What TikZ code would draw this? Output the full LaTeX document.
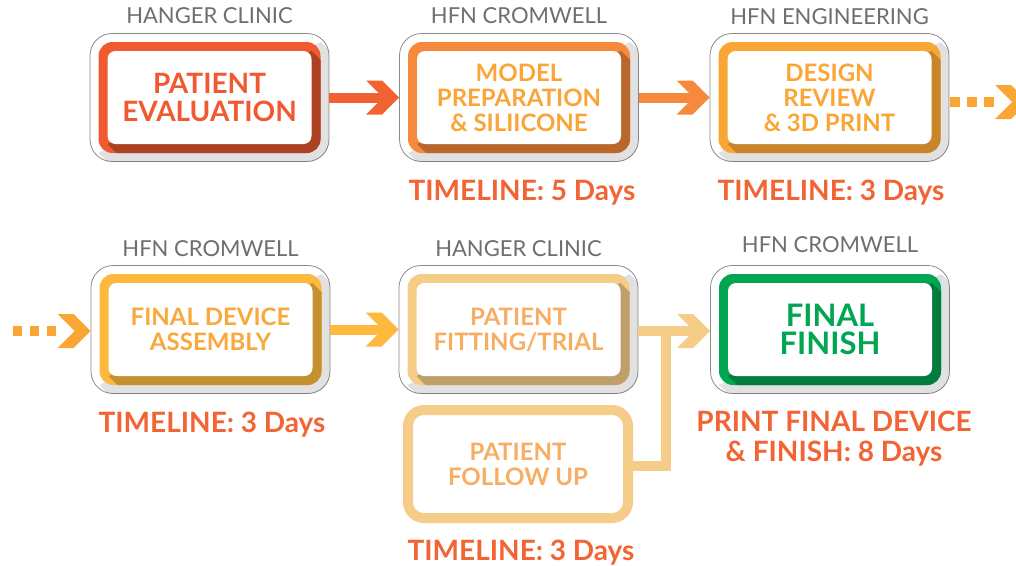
\documentclass[tikz,border=0pt]{standalone}
\usepackage{fontspec}
\setmainfont{Lato}
\usetikzlibrary{calc}
\definecolor{cA}{HTML}{F15A31}
\definecolor{cAr}{HTML}{F26433}
\definecolor{cB}{HTML}{F6893B}
\definecolor{cBt}{HTML}{F9A538}
\definecolor{cC}{HTML}{FAA634}
\definecolor{cD}{HTML}{FDB93D}
\definecolor{cDt}{HTML}{F9A93B}
\definecolor{cE}{HTML}{F5CD88}
\definecolor{cEt}{HTML}{F8AE62}
\definecolor{cG}{HTML}{00A651}
\definecolor{ttl}{HTML}{6D6E71}
\definecolor{obox}{HTML}{8A8A8A}
\tikzset{
  outerbox/.style={draw=obox, line width=0.8pt, fill=white, rounded corners=22pt,
    minimum width=239pt, minimum height=128pt, inner sep=0pt},
  lbl/.style={font=\bfseries\fontsize{24}{25}\selectfont, align=center, inner sep=0pt},
  lblbig/.style={font=\bfseries\fontsize{28}{28.5}\selectfont, align=center, inner sep=0pt},
  lblhuge/.style={font=\bfseries\fontsize{31}{28.5}\selectfont, align=center, inner sep=0pt},
  ttlstyle/.style={font=\fontsize{22}{24}\selectfont, text=ttl, inner sep=0pt},
  tline/.style={font=\bfseries\fontsize{28}{30}\selectfont, text=cAr, align=center,
    inner sep=0pt, anchor=north},
  shaft/.style={line width=10pt},
  dots/.style={line width=10pt, dash pattern=on 10pt off 7pt},
}
\newcommand\chev[2]{\fill[#1] ($(#2)+(-33,-17)$) -- ($(#2)+(-17,-17)$) -- (#2)
  -- ($(#2)+(-17,17)$) -- ($(#2)+(-33,17)$) -- ($(#2)+(-16,0)$) -- cycle;}
% name, position, frame colour, dark colour, text colour, text style, text
\newcommand\stagebox[7]{%
  \node[outerbox] (#1) at (#2) {};
  \begin{scope}
    \clip[rounded corners=22pt] ($(#1)+(-119.5,-64)$) rectangle ($(#1)+(119.5,64)$);
    \fill[black,opacity=0.06] ($(#1)+(111,-55.5)$) -- ($(#1)+(127,-39.5)$)
      -- ($(#1)+(127,71.5)$) -- ($(#1)+(-95,71.5)$) -- ($(#1)+(-111,55.5)$) -- cycle;
    \fill[black,opacity=0.06] ($(#1)+(111,-55.5)$) -- ($(#1)+(119,-47.5)$)
      -- ($(#1)+(119,63.5)$) -- ($(#1)+(-103,63.5)$) -- ($(#1)+(-111,55.5)$) -- cycle;
  \end{scope}
  \fill[#3, rounded corners=14pt] ($(#1)+(-111,-55.5)$) rectangle ($(#1)+(111,55.5)$);
  \begin{scope}
    \clip[rounded corners=14pt] ($(#1)+(-111,-55.5)$) rectangle ($(#1)+(111,55.5)$);
    \fill[#4] ($(#1)+(102,-46.5)$) -- ($(#1)+(132,-16.5)$) -- ($(#1)+(132,76.5)$)
      -- ($(#1)+(-72,76.5)$) -- ($(#1)+(-102,46.5)$) -- cycle;
  \end{scope}
  \fill[white, rounded corners=8pt] ($(#1)+(-102,-46.5)$) rectangle ($(#1)+(102,46.5)$);
  \node[#6, text=#5] (#1t) at (#1) {#7};
}
\begin{document}
\begin{tikzpicture}[x=1pt,y=-1pt]
\useasboundingbox (0,0) rectangle (1016,565);
\clip (0,0) rectangle (1016,565);

% stages
\stagebox{b1}{209.5,97.5}{cA}{cA!72!black}{cA}{lblbig}{PATIENT\\EVALUATION}
\stagebox{b2}{519,97.5}{cB}{cB!75!black}{cBt}{lbl}{MODEL\\PREPARATION\\\& SILIICONE}
\stagebox{b3}{829.5,97.5}{cC}{cC!80!black}{cC}{lbl}{DESIGN\\REVIEW\\\& 3D PRINT}
\stagebox{b4}{210.5,329.5}{cD}{cD!78!black}{cDt}{lbl}{FINAL DEVICE\\ASSEMBLY}
\stagebox{b5}{518.5,329.5}{cE}{cE!78!black}{cEt}{lbl}{PATIENT\\FITTING/TRIAL}
\stagebox{b6}{830,329.5}{cG}{cG!75!black}{cG}{lblhuge}{FINAL\\FINISH}

\node[draw=cE, line width=10pt, rounded corners=16pt, fill=white,
  minimum width=220pt, minimum height=108pt, inner sep=0pt, lbl, text=cEt]
  (fu) at (518,464) {PATIENT\\FOLLOW UP};

% titles
\node[ttlstyle] (t1) at (209.5,16) {HANGER CLINIC};
\node[ttlstyle] (t2) at (519,16) {HFN CROMWELL};
\node[ttlstyle] (t3) at (829.5,17) {HFN ENGINEERING};
\node[ttlstyle] (t4) at (210.5,249) {HFN CROMWELL};
\node[ttlstyle] (t5) at (518.5,249) {HANGER CLINIC};
\node[ttlstyle] (t6) at (830,245) {HFN CROMWELL};

% timelines
\node[tline] (l1) at (522,180) {TIMELINE: 5 Days};
\node[tline] (l2) at (831,180) {TIMELINE: 3 Days};
\node[tline] (l3) at (212,412) {TIMELINE: 3 Days};
\node[tline] (l4) at (521,540) {TIMELINE: 3 Days};
\node[tline] (l5) at (834,411) {PRINT FINAL DEVICE\\\& FINISH: 8 Days};

% connectors
\draw[shaft, cA!88!cB] (b1.east) -- ($(b2.west)+(-15,0)$);
\chev{cA!80!cB}{b2.west}
\draw[shaft, cB] (b2.east) -- ($(b3.west)+(-15,0)$);
\chev{cB}{b3.west}

\coordinate (e1) at (1028,102);
\draw[dots, cC] ($(b3.east)+(1,4.5)$) -- ($(e1)+(-33,0)$);
\chev{cC}{e1}

\coordinate (s2) at (13,331);
\coordinate (h4) at ($(b4.west)+(0,1.5)$);
\draw[dots, cC, dash pattern=on 9pt off 8pt] (s2) -- ($(h4)+(-33,0)$);
\chev{cC}{h4}

\draw[shaft, cD] (b4.east) -- ($(b5.west)+(-15,0)$);
\chev{cD}{b5.west}

\coordinate (h6) at ($(b6.west)+(0,1.5)$);
\coordinate (j) at ($(b5.east)+(28,1.5)$);
\draw[shaft, cE] ($(b5.east)+(0,1.5)$) -- ($(h6)+(-15,0)$);
\chev{cE}{h6}
\draw[shaft, cE] ($(fu.east)+(0,2)$) -| (j);
\end{tikzpicture}
\end{document}
